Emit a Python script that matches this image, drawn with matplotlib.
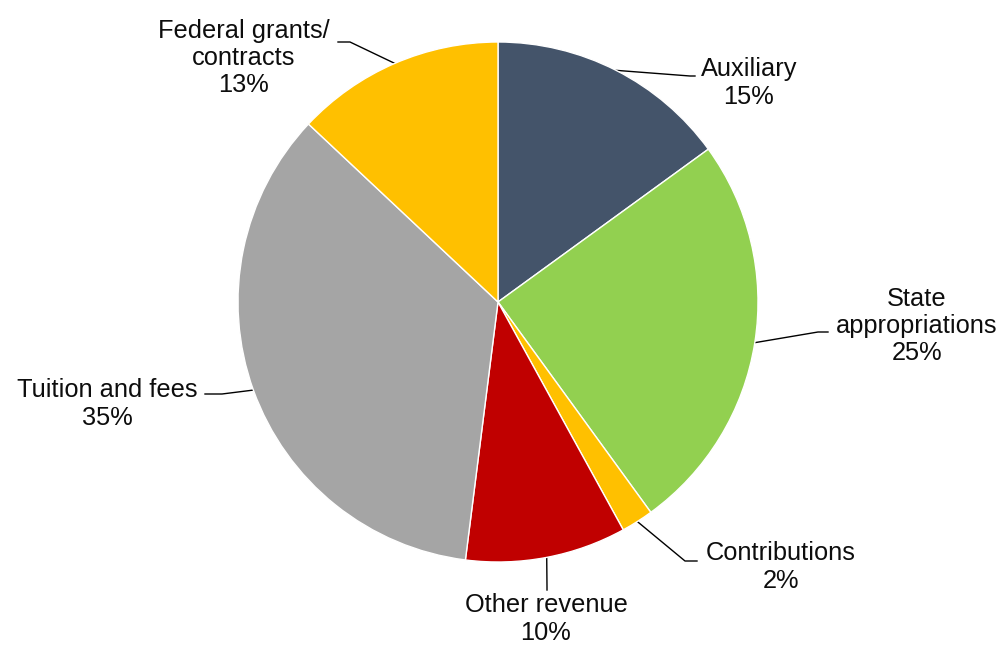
import numpy as np
import matplotlib.pyplot as plt

plt.rcParams['font.family'] = ['Liberation Sans', 'DejaVu Sans']

# revenue share by source (percent), clockwise from 12 o'clock
labels = ["Auxiliary", "State\nappropriations", "Contributions",
          "Other revenue", "Tuition and fees", "Federal grants/\ncontracts"]
shares = [15, 25, 2, 10, 35, 13]
colors = ["#44546A", "#92D050", "#FFC000", "#C00000", "#A5A5A5", "#FFC000"]

# label layout in pixel units: text centre, elbow point, end of leader
text_pos = [(749, 83), (917, 326), (781, 567), (546, 619), (107, 404), (244, 58)]
elbows = [(690, 76), (818, 332), (685, 561), (547, 587), (222, 394), (350, 42)]
ends = [(695, 76), (828, 332), (697, 561), (547, 590), (205, 394), (338, 42)]

W, H = 1003, 645
fig = plt.figure(figsize=(W / 100, H / 100), dpi=100)
ax = fig.add_axes([0, 0, 1, 1])
ax.set_aspect("equal")
ax.axis("off")

cx, cy, r = 498, 302, 260
wedges, _ = ax.pie(shares, colors=colors, center=(cx, cy), radius=r,
                   startangle=-90, counterclock=True,
                   wedgeprops=dict(edgecolor="white", linewidth=1))
ax.set_xlim(0, W)
ax.set_ylim(H, 0)

for w, lab, s, tp, el, en in zip(wedges, labels, shares, text_pos, elbows, ends):
    mid = np.deg2rad((w.theta1 + w.theta2) / 2)
    px = cx + r * np.cos(mid)
    py = cy + r * np.sin(mid)
    ax.plot([px, el[0], en[0]], [py, el[1], en[1]], color="black",
            lw=1, zorder=0.5)
    ax.text(tp[0], tp[1], f"{lab}\n{s}%", ha="center", va="center",
            fontsize=18.3, color="#0d0d0d", linespacing=1.18)

fig.savefig("out.png", dpi=100)
